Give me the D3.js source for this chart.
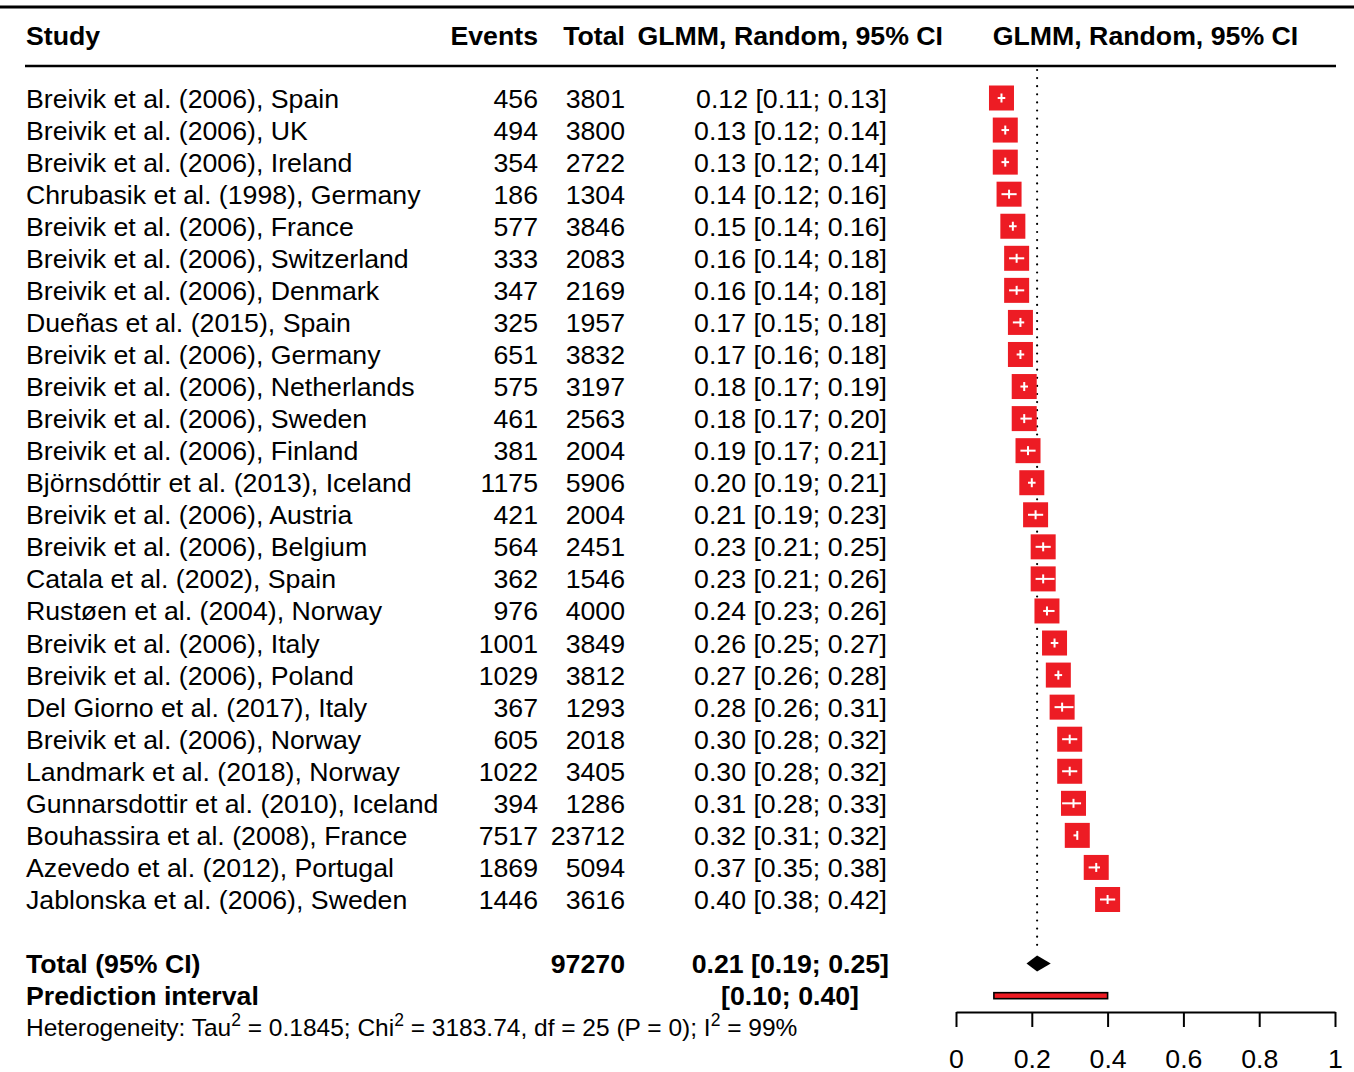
<!DOCTYPE html>
<meta charset="utf-8">
<script src="https://d3js.org/d3.v7.min.js"></script>
<style>
  body { margin: 0; background: #fff; }
  text { font-family: "Liberation Sans", Arial, sans-serif; fill: #000; }
</style>
<body>
<div id="graph"></div>
<script>
  // study level data
  var studies = [
    "Breivik et al. (2006), Spain", "Breivik et al. (2006), UK", "Breivik et al. (2006), Ireland",
    "Chrubasik et al. (1998), Germany", "Breivik et al. (2006), France", "Breivik et al. (2006), Switzerland",
    "Breivik et al. (2006), Denmark", "Dueñas et al. (2015), Spain", "Breivik et al. (2006), Germany",
    "Breivik et al. (2006), Netherlands", "Breivik et al. (2006), Sweden", "Breivik et al. (2006), Finland",
    "Björnsdóttir et al. (2013), Iceland", "Breivik et al. (2006), Austria", "Breivik et al. (2006), Belgium",
    "Catala et al. (2002), Spain", "Rustøen et al. (2004), Norway", "Breivik et al. (2006), Italy",
    "Breivik et al. (2006), Poland", "Del Giorno et al. (2017), Italy", "Breivik et al. (2006), Norway",
    "Landmark et al. (2018), Norway", "Gunnarsdottir et al. (2010), Iceland", "Bouhassira et al. (2008), France",
    "Azevedo et al. (2012), Portugal", "Jablonska et al. (2006), Sweden"
  ];
  var events = [456, 494, 354, 186, 577, 333, 347, 325, 651, 575, 461, 381, 1175, 421, 564, 362, 976, 1001, 1029, 367, 605, 1022, 394, 7517, 1869, 1446];
  var totals = [3801, 3800, 2722, 1304, 3846, 2083, 2169, 1957, 3832, 3197, 2563, 2004, 5906, 2004, 2451, 1546, 4000, 3849, 3812, 1293, 2018, 3405, 1286, 23712, 5094, 3616];
  var est   = [0.12, 0.13, 0.13, 0.14, 0.15, 0.16, 0.16, 0.17, 0.17, 0.18, 0.18, 0.19, 0.20, 0.21, 0.23, 0.23, 0.24, 0.26, 0.27, 0.28, 0.30, 0.30, 0.31, 0.32, 0.37, 0.40];
  var lower = [0.11, 0.12, 0.12, 0.12, 0.14, 0.14, 0.14, 0.15, 0.16, 0.17, 0.17, 0.17, 0.19, 0.19, 0.21, 0.21, 0.23, 0.25, 0.26, 0.26, 0.28, 0.28, 0.28, 0.31, 0.35, 0.38];
  var upper = [0.13, 0.14, 0.14, 0.16, 0.16, 0.18, 0.18, 0.18, 0.18, 0.19, 0.20, 0.21, 0.21, 0.23, 0.25, 0.26, 0.26, 0.27, 0.28, 0.31, 0.32, 0.32, 0.33, 0.32, 0.38, 0.42];

  // pooled result
  var pooled = [0.214, 0.19, 0.25];   // estimate, lower, upper
  var predInt = [0.10, 0.40];
  var grandTotal = 97270;
  var xTicks = [0, 0.2, 0.4, 0.6, 0.8, 1];
  var xTickLabels = ["0", "0.2", "0.4", "0.6", "0.8", "1"];

  var W = 1354, H = 1072;
  var fs = 26.7;
  var red = "#ED1C24";

  var svg = d3.select("#graph").append("svg")
    .attr("width", W).attr("height", H);

  var x = d3.scaleLinear().domain([0, 1]).range([956, 1335]);
  // row index -> vertical centre
  var y = d3.scaleLinear().domain([0, 1]).range([98, 130.06]);
  var base = function (i) { return y(i) + 9.5; };

  // column positions
  var colStudy = 26, colEvents = 538, colTotal = 625, colCI = 887;

  // header lines
  svg.append("line").attr("x1", 0).attr("x2", W).attr("y1", 7).attr("y2", 7)
    .attr("stroke", "#000").attr("stroke-width", 3);
  svg.append("line").attr("x1", 25).attr("x2", 1336).attr("y1", 66).attr("y2", 66)
    .attr("stroke", "#000").attr("stroke-width", 2.5);

  function txt(s, xx, yy, anchor, bold, size) {
    return svg.append("text")
      .attr("x", xx).attr("y", yy)
      .attr("text-anchor", anchor)
      .style("font-size", (size || fs) + "px")
      .style("font-weight", bold ? "bold" : "normal")
      .text(s);
  }

  // header
  txt("Study", colStudy, 44.5, "start", true);
  txt("Events", colEvents, 44.5, "end", true);
  txt("Total", colTotal, 44.5, "end", true);
  txt("GLMM, Random, 95% CI", 943, 44.5, "end", true);
  txt("GLMM, Random, 95% CI", (x(0) + x(1)) / 2, 44.5, "middle", true);

  var fmt = d3.format(".2f");

  // study rows text
  studies.forEach(function (s, i) {
    txt(s, colStudy, base(i), "start");
    txt(events[i], colEvents, base(i), "end");
    txt(totals[i], colTotal, base(i), "end");
    txt(fmt(est[i]) + " [" + fmt(lower[i]) + "; " + fmt(upper[i]) + "]", colCI, base(i), "end");
  });

  // reference line at pooled estimate
  svg.append("line")
    .attr("x1", x(pooled[0])).attr("x2", x(pooled[0]))
    .attr("y1", 70).attr("y2", 948)
    .attr("stroke", "#000").attr("stroke-width", 2.2)
    .attr("stroke-linecap", "round")
    .attr("stroke-dasharray", "0,8.1");

  // squares and CIs
  var sq = 25;
  var g = svg.append("g");
  g.selectAll("rect.study").data(est).enter().append("rect")
    .attr("class", "study")
    .attr("x", function (d) { return x(d) - sq / 2; })
    .attr("y", function (d, i) { return y(i) - sq / 2; })
    .attr("width", sq).attr("height", sq)
    .attr("fill", red);
  g.selectAll("line.ci").data(est).enter().append("line")
    .attr("class", "ci")
    .attr("x1", function (d, i) { return x(lower[i]); })
    .attr("x2", function (d, i) { return x(upper[i]); })
    .attr("y1", function (d, i) { return y(i); })
    .attr("y2", function (d, i) { return y(i); })
    .attr("stroke", "#fff").attr("stroke-width", 2);
  g.selectAll("line.tick").data(est).enter().append("line")
    .attr("class", "tick")
    .attr("x1", function (d) { return x(d); })
    .attr("x2", function (d) { return x(d); })
    .attr("y1", function (d, i) { return y(i) - 4.5; })
    .attr("y2", function (d, i) { return y(i) + 4.5; })
    .attr("stroke", "#fff").attr("stroke-width", 2);

  // pooled rows
  var iTot = 27, iPred = 28, iHet = 29;
  txt("Total (95% CI)", colStudy, base(iTot), "start", true);
  txt(grandTotal, colTotal, base(iTot), "end", true);
  txt(fmt(pooled[0]) + " [" + fmt(pooled[1]) + "; " + fmt(pooled[2]) + "]", 889, base(iTot), "end", true);
  txt("Prediction interval", colStudy, base(iPred), "start", true);
  txt("[" + fmt(predInt[0]) + "; " + fmt(predInt[1]) + "]", 859, base(iPred), "end", true);

  // diamond
  var yc = y(iTot);
  svg.append("path")
    .attr("d", "M" + (x(pooled[1]) - 1.5) + "," + yc + "L" + x(pooled[0]) + "," + (yc - 8) +
      "L" + x(pooled[2]) + "," + yc + "L" + x(pooled[0]) + "," + (yc + 8) + "Z")
    .attr("fill", "#000");

  // prediction interval bar
  svg.append("rect")
    .attr("x", x(predInt[0])).attr("y", y(iPred) - 3)
    .attr("width", x(predInt[1]) - x(predInt[0])).attr("height", 6)
    .attr("fill", red).attr("stroke", "#000").attr("stroke-width", 1.6);

  // heterogeneity line with superscripts
  var het = svg.append("text")
    .attr("x", colStudy).attr("y", base(iHet) - 1)
    .style("font-size", "24.5px");
  var parts = [
    ["Heterogeneity: Tau", false], ["2", true], [" = 0.1845; Chi", false], ["2", true],
    [" = 3183.74, df = 25 (P = 0); I", false], ["2", true], [" = 99%", false]
  ];
  parts.forEach(function (p, k) {
    het.append("tspan")
      .attr("dy", p[1] ? -10 : (k === 0 ? 0 : 10))
      .style("font-size", p[1] ? "17.5px" : "24.5px")
      .text(p[0]);
  });

  // x axis
  var axis = d3.axisBottom(x).tickValues(xTicks)
    .tickFormat(function (d, i) { return xTickLabels[i]; })
    .tickSize(15).tickSizeOuter(0);
  var ax = svg.append("g")
    .attr("transform", "translate(0,1012)")
    .call(axis);
  ax.select(".domain").attr("stroke-width", 2);
  ax.selectAll(".tick line").attr("stroke-width", 2);
  ax.selectAll(".tick text")
    .attr("y", 56).attr("dy", 0)
    .style("font-size", fs + "px")
    .style("font-family", "'Liberation Sans', Arial, sans-serif");
</script>
</body>
